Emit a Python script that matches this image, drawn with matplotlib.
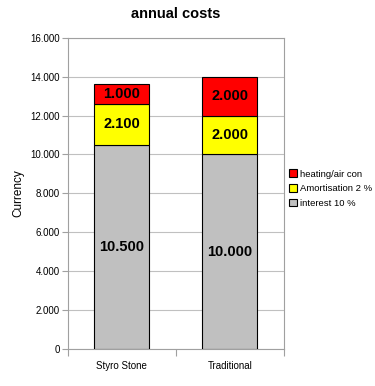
import matplotlib

matplotlib.use("Agg")
import matplotlib.pyplot as plt
from matplotlib.ticker import FuncFormatter, FixedLocator

plt.rcParams["font.family"] = ["Liberation Sans", "DejaVu Sans"]

categories = ["Styro Stone", "Traditional"]
interest = [10500, 10000]
amortisation = [2100, 2000]
heating = [1000, 2000]
series_names = ["interest 10 %", "Amortisation 2 %", "heating/air con"]
colors = ["#C0C0C0", "#FFFF00", "#FF0000"]

fig = plt.figure(figsize=(3.75, 3.86), dpi=100)
ax = fig.add_axes([0.181, 0.096, 0.576, 0.806])

x = list(range(len(categories)))
bottom = [0, 0]
handles = []
for vals, name, c in zip([interest, amortisation, heating], series_names, colors):
    bars = ax.bar(x, vals, 0.51, bottom=bottom, color=c, edgecolor="black", lw=0.8, label=name, zorder=3)
    handles.append(bars)
    for xi, b, v in zip(x, bottom, vals):
        ax.text(xi, b + v / 2, f"{v:,}".replace(",", "."), ha="center", va="center",
                fontsize=10.5, fontweight="bold", zorder=4)
    bottom = [b + v for b, v in zip(bottom, vals)]

ax.set_xlim(-0.5, 1.5)
ax.set_ylim(0, 16000)
ax.set_yticks(range(0, 16001, 2000))
ax.yaxis.set_major_formatter(FuncFormatter(lambda v, p: f"{int(v):,}".replace(",", ".")))
ax.grid(axis="y", color="#C0C0C0", lw=0.8, zorder=0)
ax.xaxis.set_major_locator(FixedLocator([-0.5, 0.5, 1.5]))
ax.xaxis.set_major_formatter(FuncFormatter(lambda v, p: ""))
ax.xaxis.set_minor_locator(FixedLocator(x))
ax.set_xticklabels(categories, minor=True)
ax.tick_params(axis="x", which="minor", length=0, labelsize=7, pad=9)
ax.tick_params(axis="x", which="major", length=5, color="#A0A0A0")
ax.tick_params(axis="y", length=4, color="#A0A0A0", labelsize=7, pad=2)
for s in ax.spines.values():
    s.set_color("#A0A0A0")
ax.set_ylabel("Currency", fontsize=8.5)
ax.set_title("annual costs", fontsize=10.5, fontweight="bold", pad=14)

leg = ax.legend(handles[::-1], series_names[::-1], loc="center left", bbox_to_anchor=(1.0, 0.515),
                frameon=False, fontsize=6.8, handlelength=0.85, handleheight=0.85,
                handletextpad=0.3, labelspacing=0.6, borderaxespad=0.15)

fig.savefig("out.png", dpi=100)
